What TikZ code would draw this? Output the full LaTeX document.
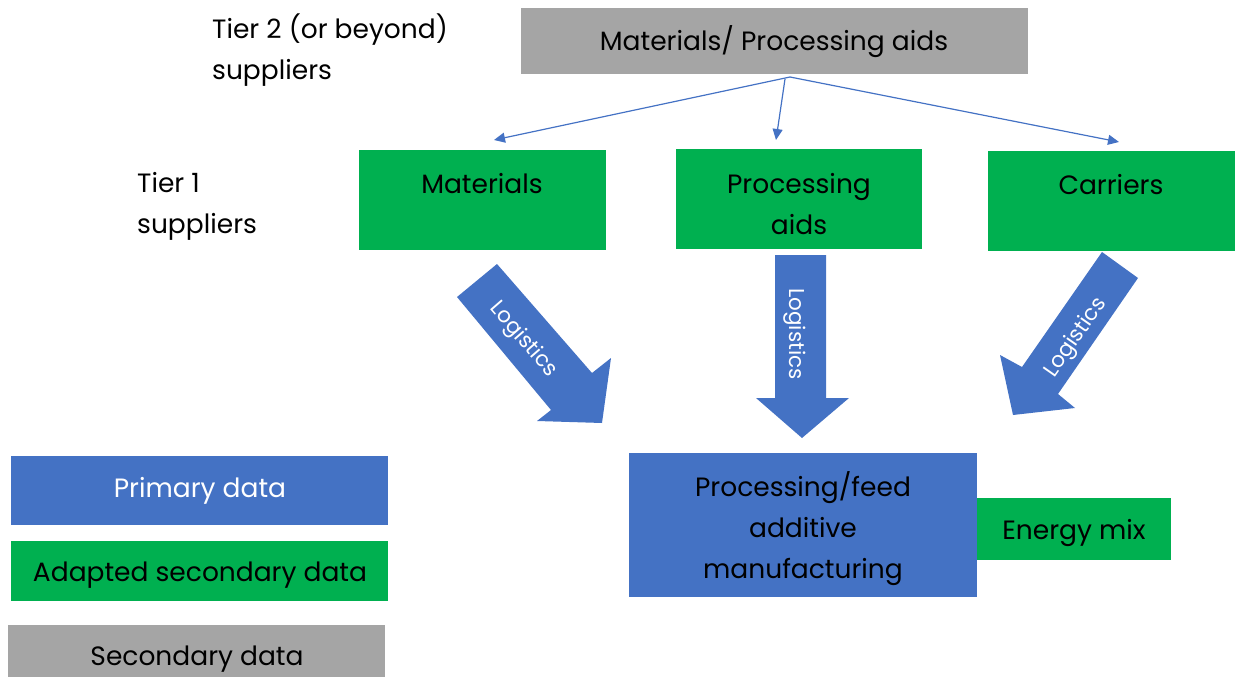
\documentclass[tikz,border=0pt]{standalone}
\usepackage{fontspec}
\setmainfont{Poppins}
\definecolor{pblue}{HTML}{4472C4}
\definecolor{pgreen}{HTML}{00B050}
\definecolor{pgray}{HTML}{A5A5A5}
\usetikzlibrary{arrows.meta}
\tikzset{
  txt/.style={font=\fontsize{26.5}{41}\selectfont, inner sep=0pt, align=center},
  wtxt/.style={txt, text=white},
  ltxt/.style={text=white, inner sep=0pt, font=\fontsize{21.5}{24}\selectfont},
  thin/.style={draw=pblue, line width=1.2pt, -{Triangle[length=11pt,width=10pt]}},
  blockarrow/.style={fill=pblue, draw=none},
}
\begin{document}
\begin{tikzpicture}[x=1pt,y=-1pt]
\useasboundingbox (0,0) rectangle (1237,677);
% top gray box
\fill[pgray] (521,8) rectangle (1028,74);
\node[txt] (top) at (774,42) {Materials/ Processing aids};
\coordinate (topb) at (790,77);
\node[txt, align=left, anchor=west] (tier2) at (212,50) {Tier 2 (or beyond)\\suppliers};
\node[txt, align=left, anchor=west] (tier1) at (137,206) {Tier 1\\suppliers};
% tier 1 boxes
\fill[pgreen] (359,150) rectangle (606,250);
\node[txt] (mat) at (482,184) {Materials};
\fill[pgreen] (676,149) rectangle (922,249);
\node[txt] (proc) at (799,204) {Processing\\aids};
\fill[pgreen] (988,151) rectangle (1235,251);
\node[txt] (car) at (1111,185) {Carriers};
\coordinate (matt) at (494,140);
\coordinate (proct) at (776,140);
\coordinate (cart) at (1119,142);
\draw[thin] (topb) -- (matt);
\draw[thin] (785,79) -- (proct);
\draw[thin] (topb) -- (cart);
% block arrows
\fill[blockarrow] (497,264) -- (592,373) -- (611,358) -- (602,423) -- (537,421) -- (551,410) -- (457,297) -- cycle;
\node[ltxt, rotate=-49] (l1) at (523,340) {Logistics};
\fill[blockarrow] (775,255) -- (826,255) -- (826,398) -- (849,398) -- (802,438) -- (756,398) -- (775,398) -- cycle;
\node[ltxt, rotate=-90] (l2) at (795,334) {Logistics};
\fill[blockarrow] (1102,252) -- (1138,278) -- (1058,394) -- (1075,408) -- (1013,415) -- (1000,355) -- (1022,367) -- cycle;
\node[ltxt, rotate=55] (l3) at (1076,338) {Logistics};
% manufacturing
\fill[pblue] (629,453) rectangle (977,597);
\node[txt] (man) at (803,529) {Processing/feed\\additive\\manufacturing};
\fill[pgreen] (977,498) rectangle (1171,560);
\node[txt] (en) at (1074,533) {Energy mix};
% legend
\fill[pblue] (11,456) rectangle (388,525);
\node[wtxt] (prim) at (200,491) {Primary data};
\fill[pgreen] (11,541) rectangle (388,601);
\node[txt] (adap) at (200,575) {Adapted secondary data};
\fill[pgray] (8,625) rectangle (385,677);
\node[txt] (sec) at (197,659) {Secondary data};
\end{tikzpicture}
\end{document}
